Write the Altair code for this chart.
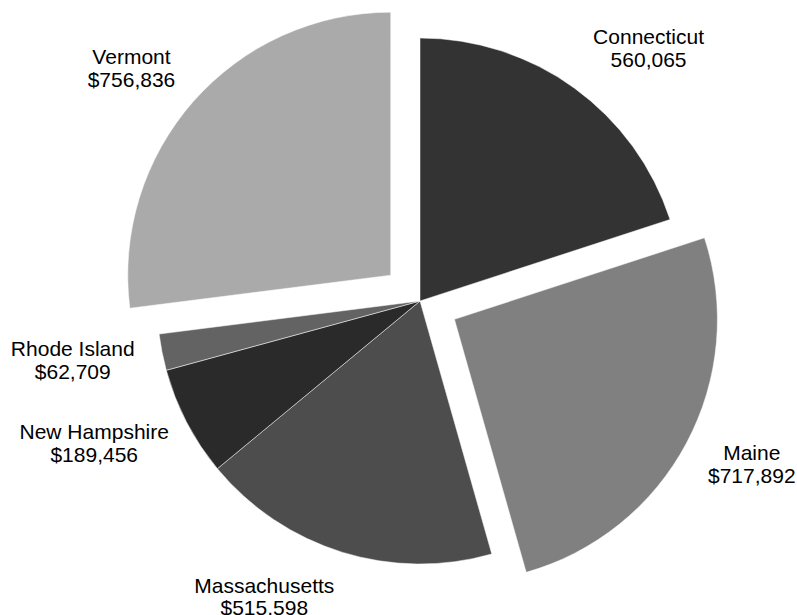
import json
import altair as alt
import pandas as pd

states = ["Connecticut", "Maine", "Massachusetts", "New Hampshire", "Rhode Island", "Vermont"]
values = [560065, 717892, 515598, 189456, 62709, 756836]
value_labels = ["560,065", "$717,892", "$515,598", "$189,456", "$62,709", "$756,836"]
colors = ["#333333", "#808080", "#4d4d4d", "#2a2a2a", "#636363", "#aaaaaa"]
exploded = ["Maine", "Vermont"]

CX, CY, R = 420, 301, 263
EXPLODE = 39
LABEL_R = 288
CHAR_W = 10.8
BOX_H = 46
LINE_H = 22.5

df = pd.DataFrame({
    "state": states,
    "value": values,
    "vlabel": value_labels,
    "order": list(range(len(states))),
})

base = (
    alt.Chart(df)
    .transform_window(cum="sum(value)", sort=[alt.SortField("order")], frame=[None, 0])
    .transform_joinaggregate(total="sum(value)")
    .transform_calculate(
        t1="2*PI*datum.cum/datum.total",
        t0="2*PI*(datum.cum-datum.value)/datum.total",
    )
    .transform_calculate(mid="(datum.t0+datum.t1)/2")
    .transform_calculate(
        ex=f"indexof({json.dumps(exploded)}, datum.state) >= 0 ? {EXPLODE} : 0"
    )
    .transform_calculate(
        cx=f"{CX} + datum.ex*sin(datum.mid)",
        cy=f"{CY} - datum.ex*cos(datum.mid)",
    )
    .transform_calculate(
        w=f"max(length(datum.state), length(datum.vlabel))*{CHAR_W}",
        lx0=f"datum.cx + {LABEL_R}*sin(datum.mid)",
        ly0=f"datum.cy - {LABEL_R}*cos(datum.mid)",
        txt="datum.state + '\\n' + datum.vlabel",
    )
    .transform_calculate(
        lx="datum.lx0 + (sin(datum.mid) >= 0 ? 1 : -1)*datum.w/2",
        ly=f"datum.ly0 - cos(datum.mid)*{BOX_H}/2 - {LINE_H}/2",
    )
)

arcs = base.mark_arc(outerRadius=R, stroke="#ffffff", strokeWidth=0.5).encode(
    theta=alt.Theta("t0:Q", scale=None),
    theta2=alt.Theta2("t1:Q"),
    x=alt.X("cx:Q", scale=None),
    y=alt.Y("cy:Q", scale=None),
    color=alt.Color("state:N", scale=alt.Scale(domain=states, range=colors), legend=None),
)

labels = base.mark_text(
    font="Liberation Sans", fontSize=21, lineBreak="\n", lineHeight=LINE_H,
    align="center", baseline="middle", color="#000000",
).encode(
    x=alt.X("lx:Q", scale=None),
    y=alt.Y("ly:Q", scale=None),
    text="txt:N",
)

chart = (
    alt.layer(arcs, labels)
    .properties(width=797, height=615, autosize=alt.AutoSizeParams(type="none"), padding=0)
    .configure_view(stroke=None)
)

chart.save("out.html", embed_options={"renderer": "svg", "actions": False})
